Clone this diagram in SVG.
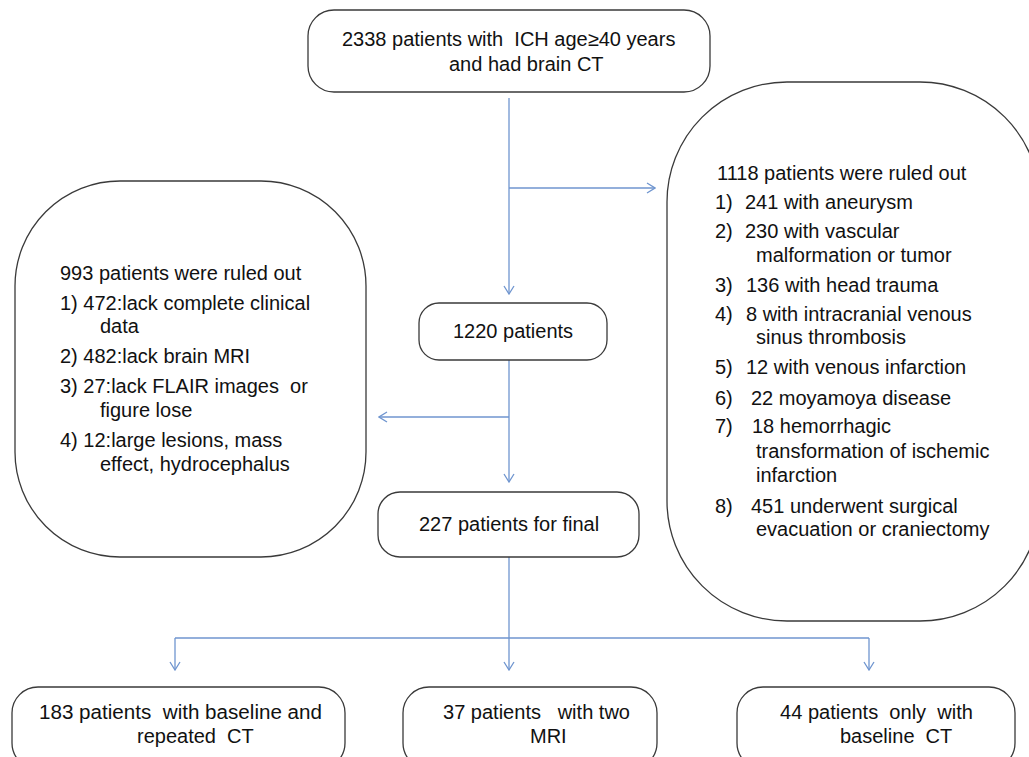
<svg xmlns="http://www.w3.org/2000/svg" width="1029" height="757" viewBox="0 0 1029 757">
<defs>
<style>
.box{fill:#ffffff;stroke:#3a3a3a;stroke-width:1.3}
.t{font-family:"Liberation Sans",Arial,sans-serif;font-size:20px;fill:#111111}
.c{fill:none;stroke:#6f95cf;stroke-width:1.3}
</style>
<marker id="ah" viewBox="0 0 10 12" refX="9" refY="6" markerWidth="10" markerHeight="12" markerUnits="userSpaceOnUse" orient="auto">
<path d="M1,1 L9,6 L1,11" fill="none" stroke="#6f95cf" stroke-width="1.3"/>
</marker>
</defs>
<rect width="1029" height="757" fill="#ffffff"/>
<g id="connectors">
<path class="c" d="M509,98 V294" marker-end="url(#ah)"/>
<path class="c" d="M509,188 H655" marker-end="url(#ah)"/>
<path class="c" d="M509,360 V482" marker-end="url(#ah)"/>
<path class="c" d="M509,417 H379" marker-end="url(#ah)"/>
<path class="c" d="M509,557 V638"/>
<path class="c" d="M175,638 H869"/>
<path class="c" d="M175,638 V670" marker-end="url(#ah)"/>
<path class="c" d="M509,638 V670" marker-end="url(#ah)"/>
<path class="c" d="M869,638 V670" marker-end="url(#ah)"/>
</g>
<g id="n-start">
<rect class="box" x="308" y="10" width="402" height="82" rx="26"/>
<text class="t" x="342" y="46" xml:space="preserve">2338 patients with  ICH age≥40 years</text>
<text class="t" x="449" y="71">and had brain CT</text>
</g>
<g id="n-excl1">
<rect class="box" x="667" y="82" width="373" height="539" rx="120"/>
<text class="t" x="717" y="180">1118 patients were ruled out</text>
<text class="t" x="715" y="209">1)</text><text class="t" x="745" y="209">241 with aneurysm</text>
<text class="t" x="715" y="238">2)</text><text class="t" x="745" y="238">230 with vascular</text>
<text class="t" x="756" y="262">malformation or tumor</text>
<text class="t" x="715" y="292">3)</text><text class="t" x="746" y="292">136 with head trauma</text>
<text class="t" x="715" y="321">4)</text><text class="t" x="746" y="321">8 with intracranial venous</text>
<text class="t" x="756" y="344">sinus thrombosis</text>
<text class="t" x="715" y="374">5)</text><text class="t" x="746" y="374">12 with venous infarction</text>
<text class="t" x="715" y="405">6)</text><text class="t" x="751" y="405">22 moyamoya disease</text>
<text class="t" x="715" y="433">7)</text><text class="t" x="752" y="433">18 hemorrhagic</text>
<text class="t" x="756" y="458">transformation of ischemic</text>
<text class="t" x="756" y="482">infarction</text>
<text class="t" x="715" y="513">8)</text><text class="t" x="751" y="513">451 underwent surgical</text>
<text class="t" x="756" y="536">evacuation or craniectomy</text>
</g>
<g id="n-1220">
<rect class="box" x="419" y="303" width="188" height="57" rx="20"/>
<text class="t" x="453" y="338">1220 patients</text>
</g>
<g id="n-excl2">
<rect class="box" x="15" y="181" width="351" height="376" rx="105"/>
<text class="t" x="60" y="280">993 patients were ruled out</text>
<text class="t" x="60" y="310">1) 472:lack complete clinical</text>
<text class="t" x="100" y="333">data</text>
<text class="t" x="60" y="363">2) 482:lack brain MRI</text>
<text class="t" x="60" y="393" xml:space="preserve">3) 27:lack FLAIR images  or</text>
<text class="t" x="100" y="417">figure lose</text>
<text class="t" x="60" y="447">4) 12:large lesions, mass</text>
<text class="t" x="100" y="471">effect, hydrocephalus</text>
</g>
<g id="n-227">
<rect class="box" x="378" y="492" width="261" height="65" rx="22"/>
<text class="t" x="419" y="531">227 patients for final</text>
</g>
<g id="n-ct">
<rect class="box" x="12" y="687" width="333" height="82" rx="26"/>
<text class="t" x="39" y="719" xml:space="preserve" textLength="283" lengthAdjust="spacingAndGlyphs">183 patients  with baseline and</text>
<text class="t" x="137" y="743" xml:space="preserve">repeated  CT</text>
</g>
<g id="n-mri">
<rect class="box" x="403" y="687" width="254" height="82" rx="26"/>
<text class="t" x="443" y="719" xml:space="preserve" textLength="187" lengthAdjust="spacingAndGlyphs">37 patients   with two</text>
<text class="t" x="530" y="743">MRI</text>
</g>
<g id="n-base">
<rect class="box" x="737" y="687" width="278" height="82" rx="26"/>
<text class="t" x="780" y="719" xml:space="preserve" textLength="193" lengthAdjust="spacingAndGlyphs">44 patients  only  with</text>
<text class="t" x="840" y="743" xml:space="preserve">baseline  CT</text>
</g>
</svg>
